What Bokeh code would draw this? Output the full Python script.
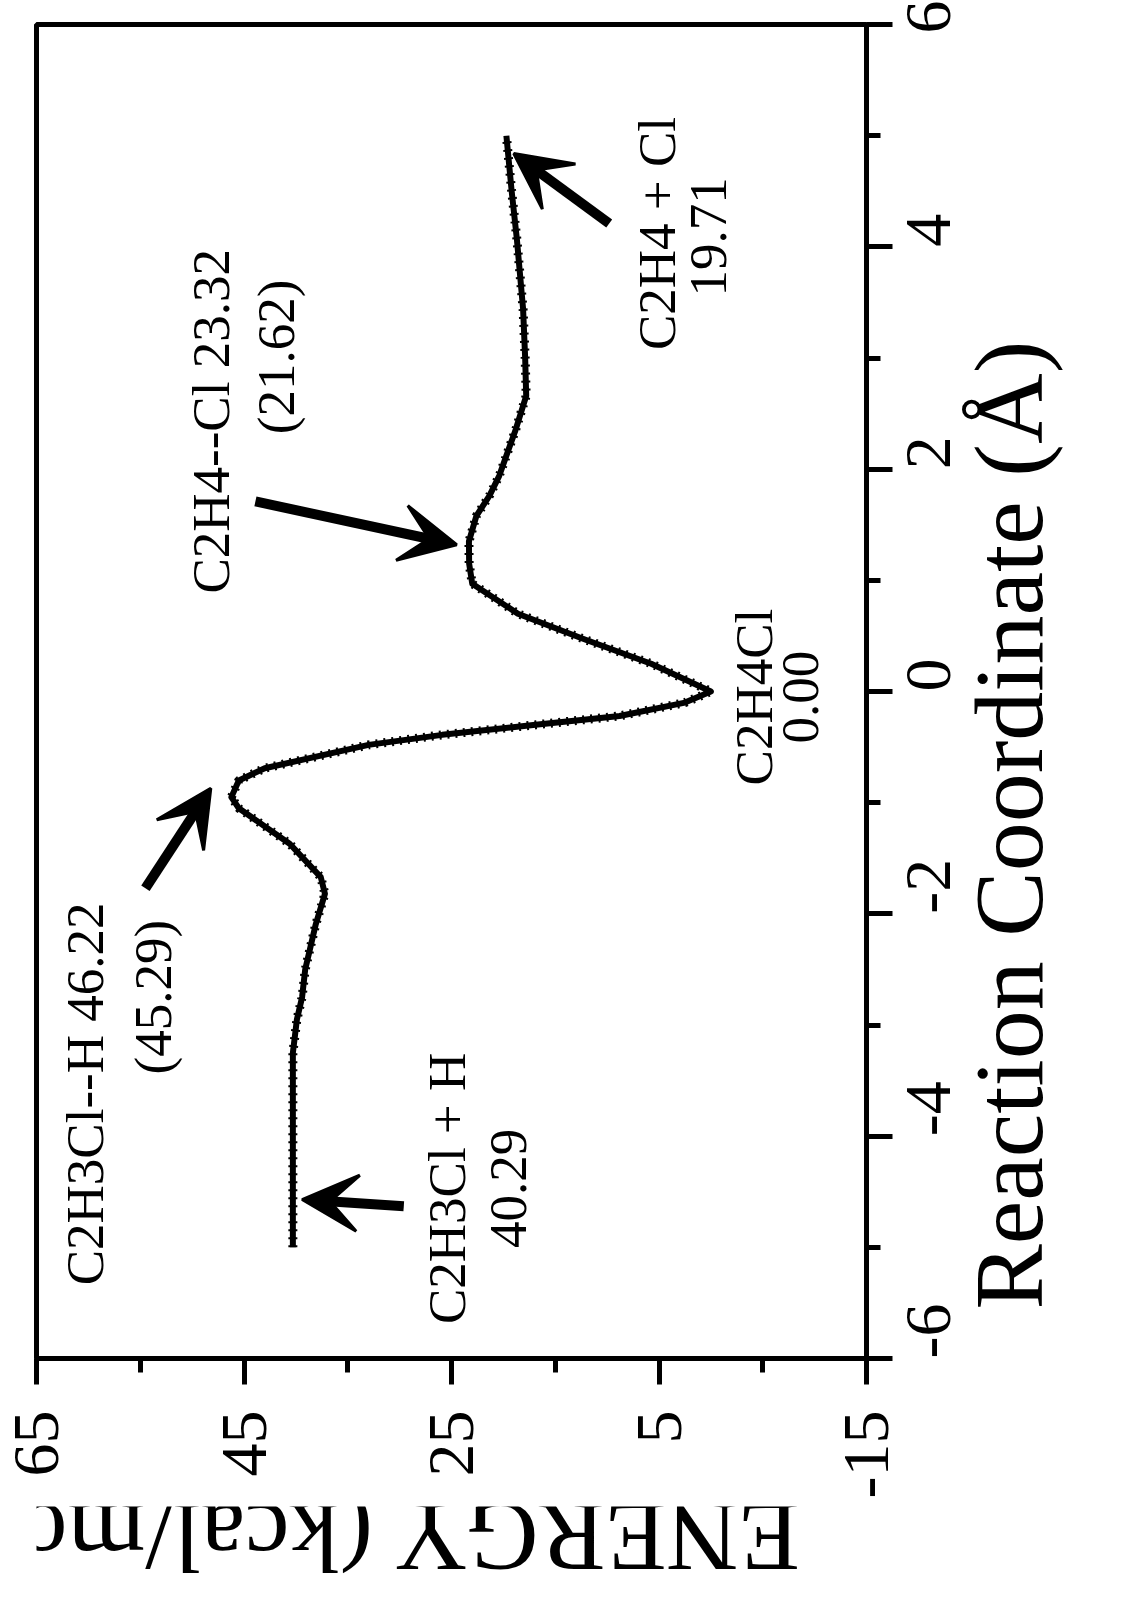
from math import pi

from bokeh.core.properties import value
from bokeh.embed import file_html
from bokeh.layouts import column
from bokeh.models import Arrow, FixedTicker, LinearAxis, Range1d, VeeHead
from bokeh.plotting import figure
from bokeh.resources import INLINE

# Energy profile along the reaction coordinate (kcal/mol vs. Angstrom)
reaction_coord = [-5.0, -4.2, -3.25, -2.95, -2.75, -2.5, -2.1, -1.82, -1.67, -1.37,
                  -1.05, -0.95, -0.8, -0.69, -0.48, -0.39, -0.3, -0.22, -0.1, 0.0,
                  0.25, 0.47, 0.70, 0.97, 1.15, 1.35, 1.58, 1.76, 1.94, 2.36,
                  2.66, 3.0, 3.44, 4.07, 4.5, 5.0]
energy_kcal = [40.29, 40.29, 40.29, 39.9, 39.4, 39.1, 38.1, 37.2, 37.6, 40.6,
               45.5, 46.22, 45.5, 43.0, 33.0, 25.9, 16.9, 8.8, 2.5, 0.0,
               5.75, 12.2, 18.6, 23.0, 23.3, 23.32, 22.6, 21.35, 20.4, 18.8,
               17.8, 17.9, 18.1, 18.7, 19.2, 19.71]

# Stationary-point annotations
species_text = ["C2H3Cl--H 46.22", "(45.29)", "C2H3Cl + H", "40.29",
                "C2H4Cl", "0.00", "C2H4--Cl 23.32", "(21.62)",
                "C2H4 + Cl", "19.71"]

energy_ticks = [65, 45, 25, 5, -15]
energy_minor = [55, 35, 15, -5]
rc_ticks = [-6, -4, -2, 0, 2, 4, 6]
rc_minor = [-5, -3, -1, 1, 3, 5]

energy_title = "ENERGY (kcal/mol)"
rc_title = "Reaction Coordinate (Å)"

SERIF = "Liberation Serif"

# --- annotation placement (energy, reaction coordinate) ---
text_e = [60.3, 53.8, 25.4, 19.5, -4.2, -8.6, 48.2, 41.9, 5.2, 0.2]
text_rc = [-3.62, -2.75, -4.47, -4.47, -0.05, -0.05, 2.43, 3.01, 4.12, 4.09]

arrows = [
    (54.5, -1.77, 48.2, -0.87),
    (29.6, -4.63, 39.4, -4.57),
    (43.9, 1.71, 24.5, 1.32),
    (9.8, 4.21, 19.0, 4.84),
]

# The plot is laid out rotated: energy runs horizontally (decreasing to the
# right), the reaction coordinate runs vertically.
p = figure(width=1124, height=1506, output_backend="svg", toolbar_location=None,
           x_range=Range1d(65, -15), y_range=Range1d(-6, 6),
           x_axis_location=None, y_axis_location=None,
           min_border_left=36, min_border_right=258,
           min_border_top=24, min_border_bottom=148,
           background_fill_color="white", border_fill_color="white")
p.outline_line_color = "black"
p.outline_line_width = 5
for g in p.grid:
    g.visible = False

ax_e = LinearAxis(ticker=FixedTicker(ticks=energy_ticks, minor_ticks=energy_minor),
                  major_label_overrides={t: str(t) for t in energy_ticks})
ax_rc = LinearAxis(ticker=FixedTicker(ticks=rc_ticks, minor_ticks=rc_minor),
                   major_label_overrides={t: str(t) for t in rc_ticks})
for ax in (ax_e, ax_rc):
    ax.axis_line_width = 5
    ax.axis_line_color = "black"
    ax.major_tick_line_width = 5
    ax.minor_tick_line_width = 5
    ax.major_tick_line_color = "black"
    ax.minor_tick_line_color = "black"
    ax.major_tick_in = 0
    ax.major_tick_out = 26
    ax.minor_tick_in = 0
    ax.minor_tick_out = 14
    ax.major_label_text_font = SERIF
    ax.major_label_text_font_size = "66px"
    ax.major_label_text_color = "black"
    ax.major_label_orientation = pi / 2
    ax.axis_label_text_font = SERIF
    ax.axis_label_text_font_style = "normal"
    ax.axis_label_text_color = "black"
ax_e.major_label_standoff = 26
ax_rc.major_label_standoff = 36

# reaction-coordinate title: reads upward from the lower end of the axis
ax_rc.axis_label = "\u00a0\u00a0" + rc_title
ax_rc.axis_label_text_font_size = "98px"
ax_rc.axis_label_orientation = pi / 2
ax_rc.axis_label_align = "start"
ax_rc.axis_label_standoff = 34

p.add_layout(ax_e, "below")
p.add_layout(ax_rc, "right")

# energy curve with a dotted trace riding on it
p.line(energy_kcal, reaction_coord, line_width=6, line_color="black", line_join="round")
p.line(energy_kcal, reaction_coord, line_width=9, line_color="black",
       line_dash="2 6")

p.text(x=text_e, y=text_rc, text=species_text, angle=pi / 2,
       text_font=value(SERIF), text_font_size="53px", text_color="black",
       text_align="center", text_baseline="middle")

for e0, r0, e1, r1 in arrows:
    p.add_layout(Arrow(end=VeeHead(size=56, fill_color="black", line_color="black",
                                   line_width=3),
                       x_start=e0, y_start=r0, x_end=e1, y_end=r1,
                       line_width=10, line_color="black"))

# strip under the plot carrying the upside-down energy title
strip = figure(width=1124, height=100, output_backend="svg", toolbar_location=None,
               x_range=Range1d(0, 1124), y_range=Range1d(0, 100),
               x_axis_location=None, y_axis_location=None,
               min_border=0, outline_line_color=None,
               background_fill_color="white", border_fill_color="white")
for g in strip.grid:
    g.visible = False
strip.text(x=[460], y=[69], text=[energy_title], angle=pi,
           text_font=value(SERIF), text_font_size="100px", text_color="black",
           text_align="center", text_baseline="alphabetic")

layout = column(p, strip, spacing=0)

open("out.html", "w").write(file_html(layout, INLINE))
